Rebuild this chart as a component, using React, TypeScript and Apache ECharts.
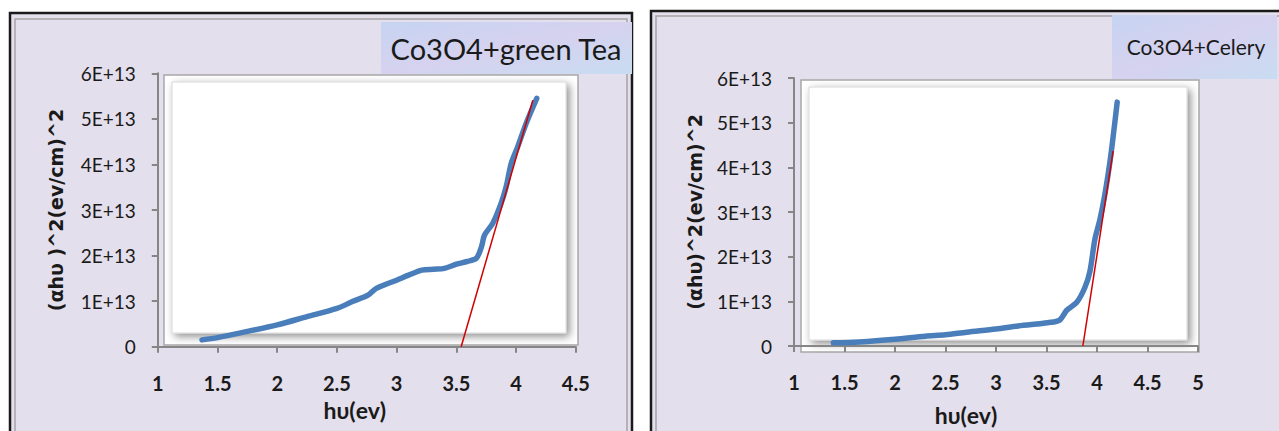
import React, { useEffect, useRef } from "react";
import * as echarts from "echarts";

// Co3O4 + green Tea
const gtX = [1.37, 1.5, 1.74, 2.0, 2.25, 2.5, 2.63, 2.76, 2.83, 3.0, 3.1, 3.21, 3.31, 3.4, 3.5, 3.59, 3.667, 3.71, 3.736, 3.805, 3.875, 3.917, 3.959, 4.014, 4.084, 4.173];
const gtY = [0.15e13, 0.2e13, 0.33e13, 0.48e13, 0.66e13, 0.84e13, 0.99e13, 1.13e13, 1.28e13, 1.46e13, 1.57e13, 1.68e13, 1.7e13, 1.72e13, 1.81e13, 1.87e13, 1.94e13, 2.19e13, 2.45e13, 2.71e13, 3.15e13, 3.51e13, 4.02e13, 4.39e13, 4.9e13, 5.45e13];
const gtFitX = [3.54, 4.14];
const gtFitY = [0, 5.41e13];

// Co3O4 + Celery
const celX = [1.39, 1.65, 2.0, 2.3, 2.5, 2.71, 3.0, 3.22, 3.436, 3.51, 3.63, 3.7, 3.8, 3.88, 3.93, 3.98, 4.03, 4.08, 4.13, 4.17, 4.2];
const celY = [0.07e13, 0.09e13, 0.15e13, 0.22e13, 0.25e13, 0.31e13, 0.38e13, 0.45e13, 0.5e13, 0.52e13, 0.58e13, 0.8e13, 0.98e13, 1.31e13, 1.67e13, 2.4e13, 2.84e13, 3.42e13, 4.15e13, 4.88e13, 5.46e13];
const celFitX = [3.86, 4.16];
const celFitY = [0, 4.37e13];

const titles = ["Co3O4+green Tea", "Co3O4+Celery"];
const xName = "hυ(ev)";
const yNames = ["(αhυ )^2(ev/cm)^2", "(αhυ)^2(ev/cm)^2"];
const xMax = [4.5, 5];

const pairs = (xs: number[], ys: number[]) => xs.map((x, i) => [x, ys[i]]);

const yFmt = (v: number) => (v === 0 ? "0" : `${Math.round(v / 1e13)}E+13`);

export default function App() {
  const ref = useRef<HTMLDivElement>(null);
  useEffect(() => {
    const chart = echarts.init(ref.current!, null, { renderer: "svg", width: 1279, height: 431 });
    const lav = "#e4dfec";
    const titleFill = new echarts.graphic.LinearGradient(0, 0, 1, 1, [
      { offset: 0, color: "#c6d4f2" },
      { offset: 0.5, color: "#d6d2ef" },
      { offset: 1, color: "#c8dcf2" },
    ]);
    const bevel = (x: number, y: number, w: number, h: number) => [
      {
        type: "rect", z: -5, shape: { x, y, width: w, height: h },
        style: { fill: "#ffffff", stroke: "#a8a8a8", lineWidth: 1.5 },
      },
      {
        type: "rect", z: -4, shape: { x: x + 8, y: y + 7, width: w - 20, height: h - 19 },
        style: { fill: "#ffffff", stroke: "#d8d8d8", lineWidth: 1, shadowBlur: 9, shadowOffsetX: 3, shadowOffsetY: 3, shadowColor: "rgba(0,0,0,0.45)" },
      },
    ];
    const axisCommon = {
      axisLine: { lineStyle: { color: "#868686", width: 2 } },
      axisTick: { show: true, length: 6, lineStyle: { color: "#868686", width: 2 } },
      splitLine: { show: false },
      z: 10,
    };
    const xAxisOf = (i: number, gap: number, pad: number) => ({
      ...axisCommon,
      type: "value", gridIndex: i, min: 1, max: xMax[i], interval: 0.5,
      name: xName, nameLocation: "middle", nameGap: gap,
      nameTextStyle: { fontFamily: "Lato", fontWeight: "bold", fontSize: 23, color: "#1a1a1a", padding: [0, pad, 0, 0] },
      axisLabel: { fontFamily: "Lato", fontWeight: "bold", fontSize: 20, color: "#1a1a1a", margin: 26, formatter: (v: number) => String(v) },
    });
    const yAxisOf = (i: number, gap: number) => ({
      ...axisCommon,
      type: "value", gridIndex: i, min: 0, max: 6e13, interval: 1e13,
      name: yNames[i], nameLocation: "middle", nameGap: gap, nameRotate: 90,
      nameTextStyle: { fontFamily: "DejaVu Sans", fontWeight: "bold", fontSize: 19, color: "#1a1a1a" },
      axisLabel: { fontFamily: "Lato", fontSize: 19, color: "#1a1a1a", margin: 22, formatter: yFmt },
    });
    chart.setOption({
      animation: false,
      backgroundColor: "#ffffff",
      graphic: [
        { type: "rect", z: -10, shape: { x: 10, y: 13, width: 622, height: 430 }, style: { fill: lav, stroke: "#1a1a1a", lineWidth: 2.5 } },
        { type: "rect", z: -9, shape: { x: 15, y: 19, width: 612, height: 420 }, style: { fill: "none", stroke: "#a4a4a4", lineWidth: 1.5 } },
        { type: "rect", z: -10, shape: { x: 651, y: 11, width: 640, height: 430 }, style: { fill: lav, stroke: "#1a1a1a", lineWidth: 2.5 } },
        { type: "rect", z: -9, shape: { x: 656, y: 16, width: 640, height: 420 }, style: { fill: "none", stroke: "#a4a4a4", lineWidth: 1.5 } },
        { type: "rect", z: -8, shape: { x: 381, y: 22, width: 251, height: 52 }, style: { fill: titleFill } },
        { type: "text", z: -7, x: 506, y: 48, style: { text: titles[0], fontFamily: "Lato", fontSize: 29, fill: "#1a1a1a", align: "center", verticalAlign: "middle" } },
        { type: "rect", z: -8, shape: { x: 1112, y: 15, width: 165, height: 64 }, style: { fill: titleFill } },
        { type: "text", z: -7, x: 1196, y: 46, style: { text: titles[1], fontFamily: "Lato", fontSize: 21, fill: "#1a1a1a", align: "center", verticalAlign: "middle" } },
        ...bevel(164, 75, 414, 270),
        ...bevel(801, 80, 398, 272),
      ],
      grid: [
        { left: 157.8, right: 1279 - 575.8, top: 73.3, bottom: 431 - 346.7 },
        { left: 794, right: 1279 - 1198, top: 78, bottom: 72 },
      ],
      xAxis: [xAxisOf(0, 52, 24), xAxisOf(1, 57, 60)],
      yAxis: [yAxisOf(0, 92), yAxisOf(1, 90)],
      series: [
        { type: "line", xAxisIndex: 0, yAxisIndex: 0, data: pairs(gtX, gtY), showSymbol: false, smooth: 0.3, z: 20, lineStyle: { color: "#4a7ebb", width: 5.5, cap: "round", join: "round" } },
        { type: "line", xAxisIndex: 0, yAxisIndex: 0, data: pairs(gtFitX, gtFitY), showSymbol: false, z: 21, lineStyle: { color: "#d00000", width: 1.5 } },
        { type: "line", xAxisIndex: 1, yAxisIndex: 1, data: pairs(celX, celY), showSymbol: false, smooth: 0.3, z: 20, lineStyle: { color: "#4a7ebb", width: 5.5, cap: "round", join: "round" } },
        { type: "line", xAxisIndex: 1, yAxisIndex: 1, data: pairs(celFitX, celFitY), showSymbol: false, z: 21, lineStyle: { color: "#d00000", width: 1.5 } },
      ],
    } as any);
    return () => chart.dispose();
  }, []);
  return <div ref={ref} style={{ position: "fixed", left: 0, top: 0, width: 1279, height: 431 }} />;
}
